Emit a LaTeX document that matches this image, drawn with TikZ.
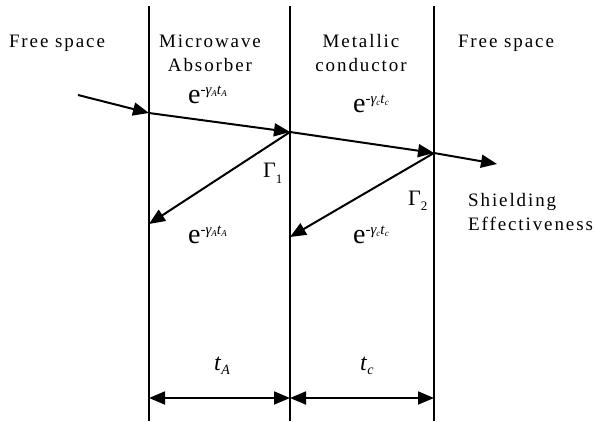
\documentclass[tikz,border=0pt]{standalone}
\usepackage{fontspec}
\setmainfont{Liberation Serif}
\newfontfamily\spaced[LetterSpace=10]{Liberation Serif}
\usetikzlibrary{arrows.meta}
\newcommand{\attn}[1]{e\raisebox{9pt}{\fontsize{15}{15}\selectfont -\textit{γ}\kern-0.5pt\raisebox{-2.5pt}{\fontsize{9}{9}\selectfont\textit{#1}}\textit{t}\raisebox{-2.5pt}{\fontsize{9}{9}\selectfont\textit{#1}}}}
\begin{document}
\begin{tikzpicture}[x=1pt,y=-1pt,
  wall/.style={line width=2pt},
  ray/.style={line width=2pt,-{Triangle[length=16pt,width=13pt]}},
  dim/.style={line width=1.8pt,{Triangle[length=16pt,width=13pt]}-{Triangle[length=16pt,width=13pt]}},
  lbl/.style={font=\fontsize{19}{24}\selectfont\spaced,inner sep=0pt,align=center,anchor=base},
  expo/.style={font=\fontsize{28}{30}\selectfont,inner sep=0pt,anchor=base west},
  refl/.style={font=\fontsize{22}{24}\selectfont,inner sep=0pt,anchor=base west},
  thick/.style={font=\fontsize{24}{26}\selectfont,inner sep=0pt,anchor=base west}]
\useasboundingbox (0,0) rectangle (595,421);
% walls
\coordinate (w1t) at (149,6); \coordinate (w1b) at (149,421);
\coordinate (w2t) at (290,6); \coordinate (w2b) at (290,421);
\coordinate (w3t) at (434,6); \coordinate (w3b) at (434,421);
\draw[wall] (w1t) -- (w1b);
\draw[wall] (w2t) -- (w2b);
\draw[wall] (w3t) -- (w3b);
% ray points
\coordinate (s) at (78,95);
\coordinate (p1) at (149,113);
\coordinate (p2) at (290,132);
\coordinate (p3) at (434,153);
\coordinate (p4) at (497,164);
\coordinate (r1) at (149,224);
\coordinate (r2) at (290,237);
\draw[ray] (s) -- (p1);
\draw[ray] (p1) -- (p2);
\draw[ray] (p2) -- (p3);
\draw[ray] (p3) -- (p4);
\draw[ray] (p2) -- (r1);
\draw[ray] (p3) -- (r2);
% dimensions
\coordinate (d1) at (149,398); \coordinate (d2) at (290,398); \coordinate (d3) at (434,398);
\draw[dim] (d1) -- (d2);
\draw[dim] (d2) -- (d3);
% header labels
\node[lbl] (fs1) at (57,47) {Free space};
\node[lbl] (mwa) at (210,71) {Microwave\\Absorber};
\node[lbl] (mc) at (361,71) {Metallic\\conductor};
\node[lbl] (fs2) at (506,47) {Free space};
% attenuation labels
\node[expo] (ea1) at (188,103) {\attn{A}};
\node[expo] (ea2) at (188,243) {\attn{A}};
\node[expo] (ec1) at (353,112) {\attn{c}};
\node[expo] (ec2) at (353,243) {\attn{c}};
\node[refl] (g1) at (263,177) {Γ\raisebox{-6pt}{\fontsize{13}{13}\selectfont 1}};
\node[refl] (g2) at (408,205) {Γ\raisebox{-5pt}{\fontsize{13}{13}\selectfont 2}};
\node[lbl,align=left,anchor=base west] (se) at (468,230) {Shielding\\Effectiveness};
\node[thick] (ta) at (214,370) {\textit{t}\raisebox{-4pt}{\fontsize{14}{14}\selectfont\textit{A}}};
\node[thick] (tc) at (360,370) {\textit{t}\raisebox{-4pt}{\fontsize{14}{14}\selectfont\textit{c}}};
\end{tikzpicture}
\end{document}
